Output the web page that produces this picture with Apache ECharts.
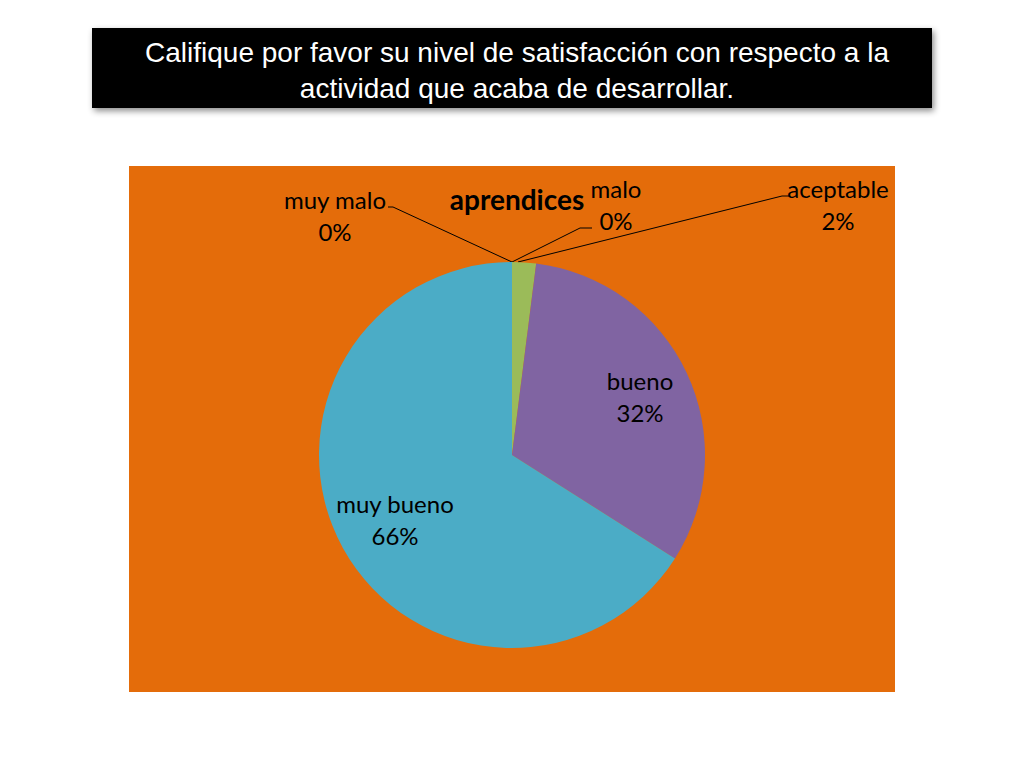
<!DOCTYPE html>
<html>
<head>
<meta charset="utf-8">
<script src="https://cdn.jsdelivr.net/npm/echarts@6/dist/echarts.min.js"></script>
<style>
  html, body { margin: 0; padding: 0; background: #fff; }
  #main { width: 1024px; height: 768px; }
</style>
</head>
<body>
<div id="main"></div>
<script>
  // datos de la encuesta
  var categorias = ['muy malo', 'malo', 'aceptable', 'bueno', 'muy bueno'];
  var valores = [0, 0, 2, 32, 66];
  var colores = ['#4F81BD', '#C0504D', '#9BBB59', '#8064A2', '#4BACC6'];

  var titulo = 'Califique por favor su nivel de satisfacción con respecto a la\nactividad que acaba de desarrollar.';
  var subtitulo = 'aprendices';

  // posiciones de las etiquetas (centro) y de sus líneas guía
  var etiquetas = [
    { x: 335, y: 215, line: [[512, 262], [393, 207], [388, 207]] },
    { x: 616, y: 204, line: [[512, 262], [580, 228], [592, 228]] },
    { x: 838, y: 204, line: [[518, 262], [782, 196], [790, 196]] },
    { x: 640, y: 396 },
    { x: 395, y: 519 }
  ];

  var myChart = echarts.init(document.getElementById('main'), null, { renderer: 'svg' });

  var datos = categorias.map(function (c, i) {
    return {
      name: c,
      value: valores[i],
      itemStyle: { color: colores[i] },
      labelLine: { show: i < 3 }
    };
  });

  var option = {
    backgroundColor: '#ffffff',
    animation: false,
    graphic: [
      {
        type: 'rect',
        z: 0,
        shape: { x: 92, y: 28, width: 840, height: 80 },
        style: { fill: '#000', shadowBlur: 6, shadowOffsetX: 2, shadowOffsetY: 3, shadowColor: 'rgba(0,0,0,0.45)' }
      },
      {
        type: 'rect',
        z: 0,
        shape: { x: 129, y: 166, width: 766, height: 526 },
        style: { fill: '#E46C0A' }
      }
    ],
    title: [
      {
        text: titulo,
        left: 512,
        top: 29,
        textAlign: 'center',
        textStyle: {
          color: '#fff',
          fontFamily: 'Liberation Sans',
          fontWeight: 'normal',
          fontSize: 28,
          lineHeight: 36
        }
      },
      {
        text: subtitulo,
        left: 512,
        top: 180,
        textAlign: 'center',
        textStyle: {
          color: '#000',
          fontFamily: 'Lato',
          fontWeight: 'bold',
          fontSize: 28
        }
      }
    ],
    series: [{
      type: 'pie',
      center: [512, 455],
      radius: 193,
      startAngle: 90,
      clockwise: true,
      avoidLabelOverlap: false,
      itemStyle: { borderWidth: 0 },
      emphasis: { disabled: true },
      label: {
        show: true,
        position: 'outside',
        color: '#000',
        fontFamily: 'Lato',
        fontSize: 24,
        lineHeight: 32,
        align: 'center',
        formatter: function (p) {
          return p.name + '\n' + Math.round(p.percent) + '%';
        }
      },
      labelLine: {
        show: true,
        lineStyle: { color: '#000', width: 1 }
      },
      labelLayout: function (params) {
        var e = etiquetas[params.dataIndex];
        var r = {
          x: e.x,
          y: e.y,
          align: 'center',
          verticalAlign: 'middle'
        };
        if (e.line) r.labelLinePoints = e.line;
        return r;
      },
      data: datos
    }]
  };

  myChart.setOption(option);
</script>
</body>
</html>
